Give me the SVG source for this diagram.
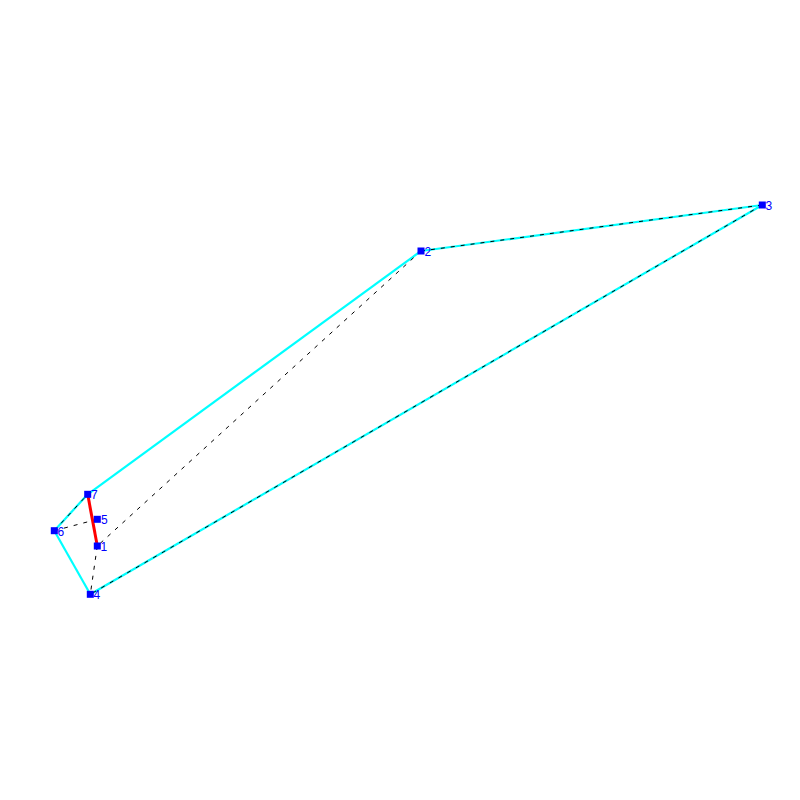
<svg xmlns="http://www.w3.org/2000/svg" width="800" height="800" viewBox="0 0 800 800">
<style>
.c{stroke:#00ffff;stroke-width:2.2;fill:none}
.d{stroke:#000;stroke-width:1;stroke-dasharray:4,6;fill:none}
.r{stroke:#ff0000;stroke-width:3;fill:none}
.n{fill:#0000ff}
.t{fill:#0000ff;font-family:"Liberation Sans",Arial,sans-serif;font-size:12px}
</style>
<rect width="800" height="800" fill="#fff"/>
<g id="connectors">
<line class="c" x1="87.7" y1="494.3" x2="421" y2="251"/>
<line class="c" x1="421" y1="251" x2="762.3" y2="205"/>
<line class="c" x1="762.3" y1="205" x2="90.3" y2="594.3"/>
<line class="c" x1="90.3" y1="594.3" x2="54.3" y2="530.7"/>
<line class="c" x1="54.3" y1="530.7" x2="87.7" y2="494.3"/>
<line class="d" x1="421" y1="251" x2="762.3" y2="205"/>
<line class="d" x1="762.3" y1="205" x2="90.3" y2="594.3"/>
<line class="d" x1="54.3" y1="530.7" x2="87.7" y2="494.3"/>
<line class="d" x1="421" y1="251" x2="97.3" y2="546"/>
<line class="d" x1="97.3" y1="546" x2="90.3" y2="594.3"/>
<line class="d" x1="54.3" y1="530.7" x2="97.3" y2="519.3"/>
<line class="r" x1="87.7" y1="494.3" x2="97.3" y2="546"/>
</g>
<g id="node1"><rect class="n" x="93.8" y="542.5" width="7" height="7"/><text class="t" x="100.5" y="550.5">1</text></g>
<g id="node2"><rect class="n" x="417.5" y="247.5" width="7" height="7"/><text class="t" x="424.5" y="255.5">2</text></g>
<g id="node3"><rect class="n" x="758.8" y="201.5" width="7" height="7"/><text class="t" x="765.5" y="209.5">3</text></g>
<g id="node4"><rect class="n" x="86.8" y="590.8" width="7" height="7"/><text class="t" x="93.5" y="599">4</text></g>
<g id="node5"><rect class="n" x="93.8" y="515.8" width="7" height="7"/><text class="t" x="101" y="524">5</text></g>
<g id="node6"><rect class="n" x="50.8" y="527.2" width="7" height="7"/><text class="t" x="57.5" y="535.5">6</text></g>
<g id="node7"><rect class="n" x="84.2" y="490.8" width="7" height="7"/><text class="t" x="91" y="499">7</text></g>
</svg>
